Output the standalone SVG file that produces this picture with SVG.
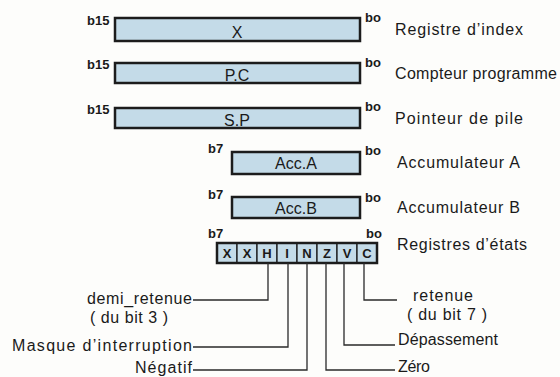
<svg xmlns="http://www.w3.org/2000/svg" width="560" height="377" viewBox="0 0 560 377">
<style>
.reg{fill:#c4dbe8;stroke:#1c1c1c;stroke-width:2.5}
.cell{fill:#c4dbe8;stroke:#1c1c1c;stroke-width:1.3}
.lbl{font-family:"Liberation Sans",Arial,sans-serif;font-size:16px;fill:#1a1a1a}
.in{font-family:"Liberation Sans",Arial,sans-serif;font-size:16px;fill:#1a1a1a;text-anchor:middle}
.bit{font-family:"Liberation Sans",Arial,sans-serif;font-size:13px;font-weight:bold;fill:#1a1a1a}
.flag{font-family:"Liberation Sans",Arial,sans-serif;font-size:13px;font-weight:bold;fill:#1a1a1a;text-anchor:middle}
.con{fill:none;stroke:#2a2a2a;stroke-width:1.3}
</style>
<rect width="560" height="377" fill="#fdfdfb"/>
<g id="reg-x">
<rect class="reg" x="115" y="18" width="245" height="23"/>
<text class="in" x="237" y="38">X</text>
<text class="bit" x="87" y="25">b15</text>
<text class="bit" x="365" y="22">bo</text>
<text class="lbl" x="395" y="35" textLength="128" lengthAdjust="spacing">Registre d’index</text>
</g>
<g id="reg-pc">
<rect class="reg" x="115" y="63" width="245" height="20"/>
<text class="in" x="237" y="81">P.C</text>
<text class="bit" x="87" y="69">b15</text>
<text class="bit" x="365" y="67">bo</text>
<text class="lbl" x="395" y="79" textLength="162" lengthAdjust="spacing">Compteur programme</text>
</g>
<g id="reg-sp">
<rect class="reg" x="115" y="108" width="245" height="20"/>
<text class="in" x="237" y="126">S.P</text>
<text class="bit" x="87" y="114">b15</text>
<text class="bit" x="365" y="111">bo</text>
<text class="lbl" x="395" y="124" textLength="128" lengthAdjust="spacing">Pointeur de pile</text>
</g>
<g id="acc-a">
<rect class="reg" x="232" y="152" width="128" height="22"/>
<text class="in" x="296" y="169">Acc.A</text>
<text class="bit" x="208" y="153">b7</text>
<text class="bit" x="365" y="155">bo</text>
<text class="lbl" x="397" y="168" textLength="123" lengthAdjust="spacing">Accumulateur A</text>
</g>
<g id="acc-b">
<rect class="reg" x="232" y="197" width="128" height="21"/>
<text class="in" x="296" y="214">Acc.B</text>
<text class="bit" x="208" y="199">b7</text>
<text class="bit" x="365" y="202">bo</text>
<text class="lbl" x="397" y="213" textLength="123" lengthAdjust="spacing">Accumulateur B</text>
</g>
<g id="flags">
<rect class="cell" x="217" y="243" width="20" height="20"/>
<rect class="cell" x="237" y="243" width="20" height="20"/>
<rect class="cell" x="257" y="243" width="20" height="20"/>
<rect class="cell" x="277" y="243" width="20" height="20"/>
<rect class="cell" x="297" y="243" width="20" height="20"/>
<rect class="cell" x="317" y="243" width="20" height="20"/>
<rect class="cell" x="337" y="243" width="20" height="20"/>
<rect class="cell" x="357" y="243" width="20" height="20"/>
<rect x="217" y="243" width="160" height="20" fill="none" stroke="#1c1c1c" stroke-width="2.5"/>
<text class="flag" x="227" y="258">X</text>
<text class="flag" x="247" y="258">X</text>
<text class="flag" x="267" y="258">H</text>
<text class="flag" x="287" y="258">I</text>
<text class="flag" x="307" y="258">N</text>
<text class="flag" x="327" y="258">Z</text>
<text class="flag" x="347" y="258">V</text>
<text class="flag" x="367" y="258">C</text>
<text class="bit" x="208" y="238">b7</text>
<text class="bit" x="366" y="238">bo</text>
<text class="lbl" x="397" y="250" textLength="130" lengthAdjust="spacing">Registres d’états</text>
</g>
<g id="connectors">
<polyline class="con" points="268,263 268,300 193,300"/>
<polyline class="con" points="288,263 288,347 193,347"/>
<polyline class="con" points="307,263 307,370 193,370"/>
<polyline class="con" points="326,263 326,370 395,370"/>
<polyline class="con" points="344,263 344,345 395,345"/>
<polyline class="con" points="364,263 364,300 397,300"/>
</g>
<g id="flag-labels">
<text class="lbl" x="87" y="304" textLength="105" lengthAdjust="spacing">demi_retenue</text>
<text class="lbl" x="90" y="323" textLength="78" lengthAdjust="spacing">( du bit 3 )</text>
<text class="lbl" x="12" y="351" textLength="180" lengthAdjust="spacing">Masque d’interruption</text>
<text class="lbl" x="135" y="373" textLength="57" lengthAdjust="spacing">Négatif</text>
<text class="lbl" x="413" y="301" textLength="60" lengthAdjust="spacing">retenue</text>
<text class="lbl" x="407" y="320" textLength="80" lengthAdjust="spacing">( du bit 7 )</text>
<text class="lbl" x="398" y="345" textLength="100" lengthAdjust="spacing">Dépassement</text>
<text class="lbl" x="398" y="372" textLength="32" lengthAdjust="spacing">Zéro</text>
</g>
</svg>
